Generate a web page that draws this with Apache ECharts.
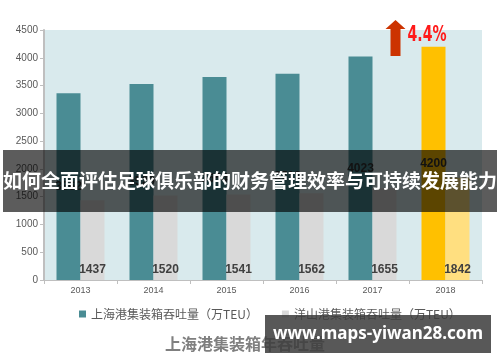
<!DOCTYPE html>
<html>
<head>
<meta charset="utf-8">
<script src="https://cdn.jsdelivr.net/npm/echarts@6/dist/echarts.min.js"></script>
<style>html,body{margin:0;padding:0;background:#fff;}#c{width:500px;height:362px;}</style>
</head>
<body>
<div id="c"></div>
<script>
var years = ['2013', '2014', '2015', '2016', '2017', '2018'];
var shanghai = [3362, 3529, 3654, 3713, 4023, 4200];
var yangshan = [1437, 1520, 1541, 1562, 1655, 1842];
var seriesNames = ['上海港集装箱吞吐量（万TEU）', '洋山港集装箱吞吐量（万TEU）'];
var titleText = '上海港集装箱年吞吐量';
var growthText = '4.4%';
var bannerText = '如何全面评估足球俱乐部的财务管理效率与可持续发展能力';
var watermarkText = 'www.maps-yiwan28.com';

var teal = '#4a8c94', gray = '#d9d9d9', gold = '#ffc000', lightGold = '#ffdf80';
var last = years.length - 1;

var chart = echarts.init(document.getElementById('c'));
chart.setOption({
  animation: false,
  backgroundColor: '#ffffff',
  title: {
    text: titleText, left: 160, top: 331,
    textStyle: { fontSize: 16, fontWeight: 'bold', color: '#7f7f7f', fontFamily: 'Noto Sans CJK SC' }
  },
  grid: { left: 44, right: 18, top: 30, bottom: 82, show: true, backgroundColor: '#d9eaed', borderWidth: 0 },
  legend: {
    top: 303, left: 74, itemGap: 24, itemWidth: 7, itemHeight: 7, icon: 'rect',
    textStyle: { fontSize: 12, color: '#595959', fontFamily: 'Noto Sans CJK SC' },
    data: [{ name: seriesNames[0], itemStyle: { color: teal } }, { name: seriesNames[1], itemStyle: { color: gray } }]
  },
  xAxis: {
    type: 'category', data: years,
    axisLine: { lineStyle: { color: '#bfbfbf', width: 1 } },
    axisTick: { show: true, length: 4, lineStyle: { color: '#bfbfbf' } },
    axisLabel: { fontSize: 9, color: '#595959', margin: 6 }
  },
  yAxis: {
    type: 'value', min: 0, max: 4500, interval: 500,
    axisLine: { show: true, lineStyle: { color: '#bfbfbf', width: 2 } },
    axisTick: { show: true, length: 4, lineStyle: { color: '#bfbfbf' } },
    splitLine: { show: false },
    axisLabel: { fontSize: 10, color: '#595959', margin: 6, formatter: function (v) { return String(v); } }
  },
  series: [
    {
      name: seriesNames[0], type: 'bar', barWidth: 24, barGap: '0%',
      itemStyle: { color: teal },
      data: shanghai.map(function (v, i) { return i === last ? { value: v, itemStyle: { color: gold } } : v; }),
      label: { show: true, position: 'inside', fontSize: 12, fontWeight: 'bold', color: '#333' }
    },
    {
      name: seriesNames[1], type: 'bar', barWidth: 24, barGap: '0%',
      itemStyle: { color: gray },
      data: yangshan.map(function (v, i) { return i === last ? { value: v, itemStyle: { color: lightGold } } : v; }),
      label: { show: true, position: 'insideBottom', distance: 4, fontSize: 12, fontWeight: 'bold', color: '#404040' }
    }
  ]
});

var tip = chart.convertToPixel({ xAxisIndex: 0, yAxisIndex: 0 }, [last, shanghai[last]]);
var ax = tip[0] - 50;
chart.setOption({
  graphic: [
    { type: 'polygon', z: 50, shape: { points: [[ax, 20], [ax + 10, 29], [ax + 5, 29], [ax + 5, 56], [ax - 5, 56], [ax - 5, 29], [ax - 10, 29]] },
      style: { fill: '#cc3300' } },
    { type: 'text', z: 50, x: ax + 12, y: 24, scaleX: 0.64, scaleY: 1,
      style: { text: growthText, fill: '#ff1a1a', font: 'bold 22px "DejaVu Sans", sans-serif' } },
    { type: 'rect', z: 100, shape: { x: 3, y: 150, width: 494, height: 62 }, style: { fill: 'rgba(0,0,0,0.64)' } },
    { type: 'text', z: 101, x: 250, y: 181,
      style: { text: bannerText, fill: '#ffffff', align: 'center', verticalAlign: 'middle', font: 'bold 19px "Noto Sans CJK SC", sans-serif' } },
    { type: 'rect', z: 100, shape: { x: 265, y: 315, width: 226, height: 38 }, style: { fill: 'rgba(60,60,60,0.86)' } },
    { type: 'text', z: 101, x: 378, y: 334,
      style: { text: watermarkText, fill: '#ffffff', align: 'center', verticalAlign: 'middle', font: 'bold 17px "Noto Sans", sans-serif' } }
  ]
});
</script>
</body>
</html>
